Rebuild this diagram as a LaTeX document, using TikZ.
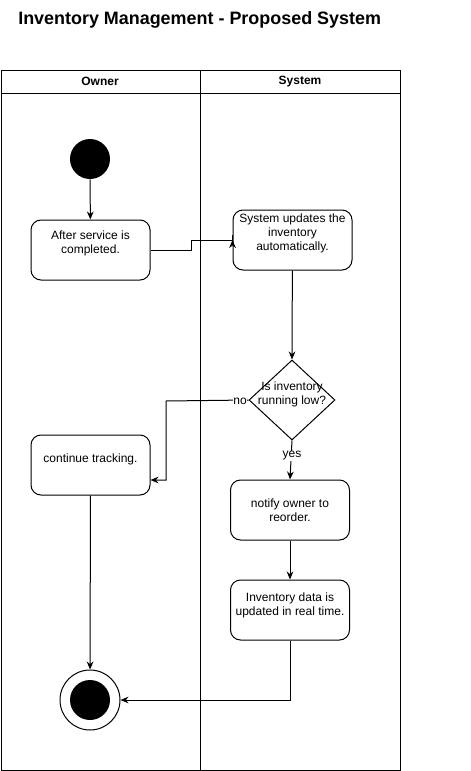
\documentclass[tikz,border=0pt]{standalone}
\usepackage{fontspec}
\setmainfont{Liberation Sans}
\usetikzlibrary{shapes.geometric,arrows.meta}
\begin{document}
\begin{tikzpicture}[x=0.75pt,y=-0.75pt,
  act/.style={draw,rounded corners=7.5pt,minimum width=89.25pt,minimum height=45pt,line width=0.75pt},
  txt/.style={align=center,font=\fontsize{9}{10.5}\selectfont,inner sep=1pt},
  flow/.style={-{Stealth[length=6pt,width=5pt]},line width=0.75pt},
  lbl/.style={font=\fontsize{9}{10.5}\selectfont,fill=white,inner sep=0.5pt}]
\useasboundingbox (0,0) rectangle (471,771);
\node[anchor=west,font=\bfseries\fontsize{13.45}{15}\selectfont,inner sep=0] (title) at (18,20) {Inventory Management - Proposed System};
% swimlanes
\draw[line width=0.75pt] (1,70) rectangle (400,770);
\draw[line width=0.75pt] (1,93) -- (400,93);
\draw[line width=0.75pt] (200,70) -- (200,770);
\node[font=\bfseries\fontsize{9}{10.5}\selectfont] (owner) at (100,81.5) {Owner};
\node[font=\bfseries\fontsize{9}{10.5}\selectfont] (system) at (300,81.5) {System};
% nodes
\node[circle,fill=black,minimum size=30pt,inner sep=0] (start) at (90,159) {};
\node[act] (after) at (90.5,250) {};
\node[txt] (aftert) at (90.5,243) {After service is\\completed.};
\node[act] (upd) at (292.5,240) {};
\node[txt] (updt) at (292.5,233.5) {System updates the\\inventory\\automatically.};
\node[diamond,draw,minimum width=64.5pt,minimum height=60pt,inner sep=0,line width=0.75pt] (dec) at (292,400) {};
\node[txt] (dect) at (292,394.5) {Is inventory\\running low?};
\node[act] (cont) at (90.5,465) {};
\node[txt] (contt) at (90.5,459) {continue tracking.};
\node[act] (notify) at (290,510) {};
\node[txt] (notifyt) at (290,510.5) {notify owner to\\reorder.};
\node[act] (data) at (290,610) {};
\node[txt] (datat) at (290,605) {Inventory data is\\updated in real time.};
\node[circle,draw,line width=0.75pt,minimum size=45pt,inner sep=0] (end) at (90,700) {};
\node[circle,fill=black,minimum size=30pt,inner sep=0] (endin) at (90,700) {};
% connectors
\coordinate (nobend) at (166,401);
\coordinate (noend) at (150.5,480);
\draw[flow] (start) -- (after);
\draw[flow] (after.east) -- ++(41,0) |- ([yshift=7.5pt]after.east -| upd.west) -- (upd.west);
\draw[flow] (upd) -- (dec.north);
\draw[flow] (dec.west) -- (nobend) |- (noend);
\node[lbl] (no) at (240,401) {no};
\draw[flow] (dec.south) -- (notify.north);
\node[lbl] (yes) at (292,456) {yes};
\draw[flow] (notify) -- (data);
\draw[flow] (cont) -- (end);
\draw[flow] (data.south) |- (end.east);
\end{tikzpicture}
\end{document}
